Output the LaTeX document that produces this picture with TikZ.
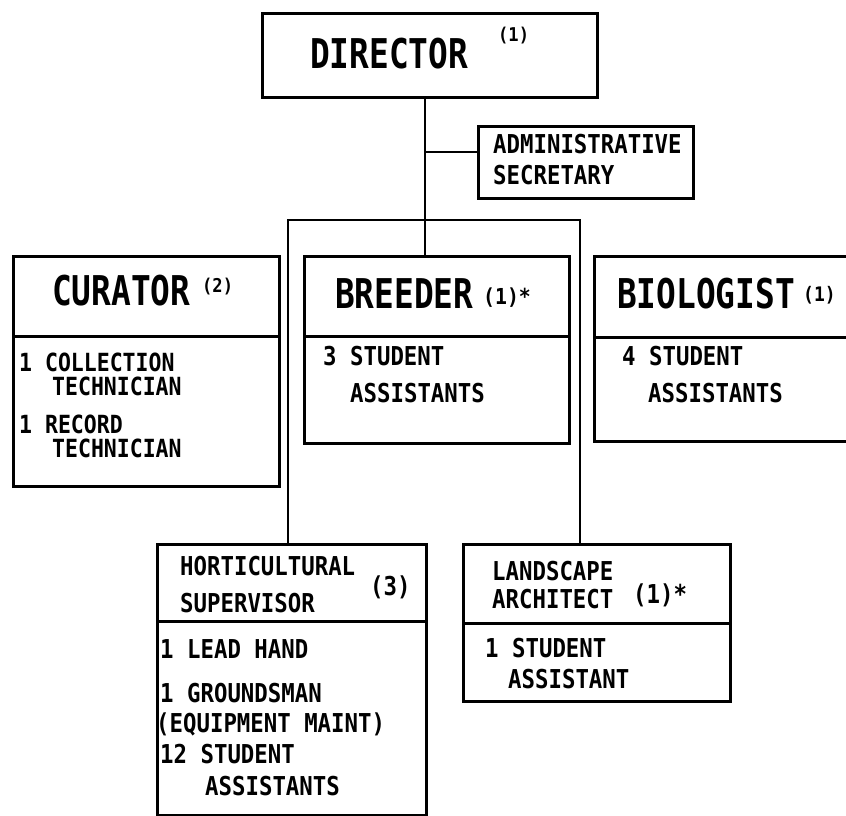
\documentclass[tikz,border=0pt]{standalone}
\usepackage{fontspec}
\newfontfamily\bigfam[FakeStretch=0.80]{DejaVu Sans Mono Bold}
\newfontfamily\smfam[FakeStretch=0.86]{DejaVu Sans Mono Bold}
\newfontfamily\supfam[FakeStretch=0.9]{DejaVu Sans Mono Bold}
\begin{document}
\begin{tikzpicture}[x=1pt,y=-1pt,
  box/.style={draw, line width=3pt, inner sep=0pt, anchor=north west},
  conn/.style={line width=2.4pt},
  bigt/.style={anchor=base west, inner sep=0pt, font=\bigfam\fontsize{41}{41}\selectfont},
  smt/.style={anchor=base west, inner sep=0pt, font=\smfam\fontsize{26}{26}\selectfont},
  cut/.style={anchor=base west, inner sep=0pt, font=\smfam\fontsize{25}{25}\selectfont},
  supt/.style={anchor=base west, inner sep=0pt, font=\supfam\fontsize{19}{19}\selectfont}]
\useasboundingbox (0,0) rectangle (846,815);
\clip (0,0) rectangle (846,815);
% boxes
\node[box, minimum width=335pt, minimum height=84pt] (dir) at (261,12) {};
\node[box, minimum width=215pt, minimum height=72pt] (adm) at (477,125) {};
\node[box, minimum width=266pt, minimum height=80pt] (curH) at (12,255) {};
\node[box, minimum width=266pt, minimum height=150pt] (curB) at (12,335) {};
\node[box, minimum width=265pt, minimum height=80pt] (breH) at (303,255) {};
\node[box, minimum width=265pt, minimum height=107pt] (breB) at (303,335) {};
\node[box, minimum width=262pt, minimum height=81pt] (bioH) at (593,255) {};
\node[box, minimum width=262pt, minimum height=104pt] (bioB) at (593,336) {};
\node[box, minimum width=269pt, minimum height=77pt] (horH) at (156,543) {};
\node[box, minimum width=269pt, minimum height=194pt] (horB) at (156,620) {};
\node[box, minimum width=267pt, minimum height=79pt] (lanH) at (462,543) {};
\node[box, minimum width=267pt, minimum height=78pt] (lanB) at (462,622) {};
% connectors
\coordinate (spine) at (425,0);
\coordinate (admY) at (0,152);
\coordinate (barL) at (288,220);
\coordinate (barR) at (580,220);
\draw[conn] (spine |- dir.south) -- (spine |- breH.north);
\draw[conn] (spine |- admY) -- (adm.west |- admY);
\draw[conn] (barL |- horH.north) -- (barL) -- (barR) -- (barR |- lanH.north);
% texts
\node[bigt] (tdir) at (310,68) {DIRECTOR};
\node[supt] (sdir) at (498,41) {(1)};
\node[smt] (tadm1) at (493,153) {ADMINISTRATIVE};
\node[smt] (tadm2) at (493,184) {SECRETARY};
\node[bigt] (tcur) at (52,305) {CURATOR};
\node[supt] (scur) at (202,292) {(2)};
\node[cut] (c1) at (19,371) {1 COLLECTION};
\node[cut] (c2) at (52,395) {TECHNICIAN};
\node[cut] (c3) at (19,433) {1 RECORD};
\node[cut] (c4) at (52,457) {TECHNICIAN};
\node[bigt] (tbre) at (335,308) {BREEDER};
\node[supt, font=\supfam\fontsize{22}{22}\selectfont] (sbre) at (483,304) {(1)*};
\node[smt] (b1) at (323,365) {3 STUDENT};
\node[smt] (b2) at (350,402) {ASSISTANTS};
\node[bigt] (tbio) at (617,308) {BIOLOGIST};
\node[supt, font=\supfam\fontsize{20}{20}\selectfont] (sbio) at (803,301) {(1)};
\node[smt] (g1) at (622,365) {4 STUDENT};
\node[smt] (g2) at (648,402) {ASSISTANTS};
\node[smt] (h1) at (180,575) {HORTICULTURAL};
\node[smt] (h2) at (180,612) {SUPERVISOR};
\node[smt] (h3) at (370,595) {(3)};
\node[smt] (hb1) at (160,658) {1 LEAD HAND};
\node[smt] (hb2) at (160,702) {1 GROUNDSMAN};
\node[smt] (hb3) at (156,732) {(EQUIPMENT MAINT)};
\node[smt] (hb4) at (160,763) {12 STUDENT};
\node[smt] (hb5) at (205,795) {ASSISTANTS};
\node[smt] (l1) at (492,580) {LANDSCAPE};
\node[smt] (l2) at (492,608) {ARCHITECT};
\node[smt] (l3) at (633,603) {(1)*};
\node[smt] (lb1) at (485,657) {1 STUDENT};
\node[smt] (lb2) at (508,688) {ASSISTANT};
\end{tikzpicture}
\end{document}
